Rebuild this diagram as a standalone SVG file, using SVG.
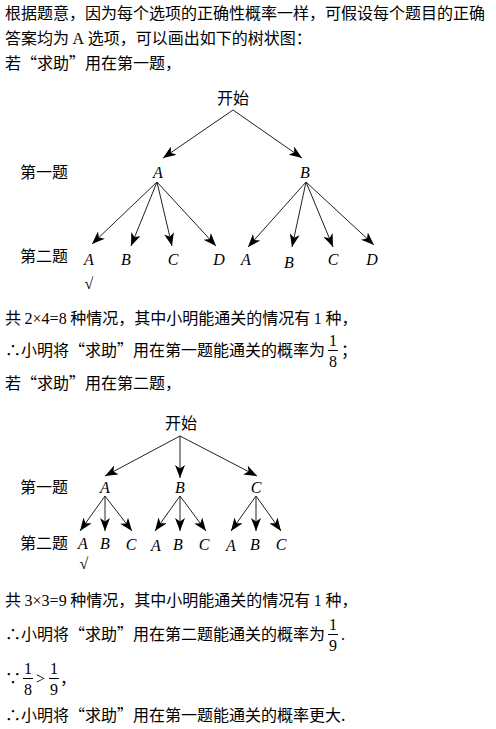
<svg xmlns="http://www.w3.org/2000/svg" width="496" height="729" viewBox="0 0 496 729">
<style>
text{font-family:"Noto Sans CJK SC","Noto Sans",sans-serif;font-size:16px;fill:#000}
.s{font-family:"Liberation Serif",serif}
.l{font-family:"Liberation Serif",serif;font-style:italic;font-size:16px;text-anchor:middle}
.m{text-anchor:middle}
.f{font-family:"Liberation Serif",serif;font-size:16px;text-anchor:middle}
.ck{font-family:"Liberation Serif",serif;font-size:16px;text-anchor:middle}
.c line{stroke:#222;stroke-width:1}
.e{stroke:#000;stroke-width:1}
</style>
<defs>
<marker id="ah" markerUnits="userSpaceOnUse" markerWidth="14" markerHeight="10" refX="13" refY="5" orient="auto">
<path d="M0,0 L13,5 L0,10 L3.5,5 z" fill="#000"/>
</marker>
</defs>
<rect width="496" height="729" fill="#fff"/>
<g id="intro">
<text x="5" y="19">根据题意，因为每个选项的正确性概率一样，可假设每个题目的正确</text>
<text x="5" y="44">答案均为 <tspan class="s">A</tspan> 选项，可以画出如下的树状图：</text>
<text x="5" y="69">若“求助”用在第一题，</text>
</g>
<g id="tree1-connectors" class="c">
<line x1="233" y1="110" x2="163" y2="158" marker-end="url(#ah)"/>
<line x1="233" y1="110" x2="302" y2="158" marker-end="url(#ah)"/>
<line x1="157" y1="182" x2="92" y2="244" marker-end="url(#ah)"/>
<line x1="157" y1="182" x2="131" y2="246" marker-end="url(#ah)"/>
<line x1="157" y1="182" x2="172" y2="246" marker-end="url(#ah)"/>
<line x1="157" y1="182" x2="216" y2="246" marker-end="url(#ah)"/>
<line x1="306" y1="182" x2="248" y2="247" marker-end="url(#ah)"/>
<line x1="306" y1="182" x2="292" y2="247" marker-end="url(#ah)"/>
<line x1="306" y1="182" x2="333" y2="247" marker-end="url(#ah)"/>
<line x1="306" y1="182" x2="374" y2="245" marker-end="url(#ah)"/>
</g>
<g id="tree1-nodes">
<g id="t1-root"><text class="m" x="233" y="104">开始</text></g>
<g id="t1-row1"><text x="20" y="178">第一题</text></g>
<g id="t1-A"><text class="l" x="158" y="178">A</text></g>
<g id="t1-B"><text class="l" x="305" y="178">B</text></g>
<g id="t1-row2"><text x="20" y="262">第二题</text></g>
<g id="t1-AA"><text class="l" x="89" y="265">A</text><text class="ck" x="89" y="289">√</text></g>
<g id="t1-AB"><text class="l" x="126" y="265">B</text></g>
<g id="t1-AC"><text class="l" x="173" y="265">C</text></g>
<g id="t1-AD"><text class="l" x="219" y="265">D</text></g>
<g id="t1-BA"><text class="l" x="246" y="265">A</text></g>
<g id="t1-BB"><text class="l" x="289" y="268">B</text></g>
<g id="t1-BC"><text class="l" x="333" y="265">C</text></g>
<g id="t1-BD"><text class="l" x="372" y="265">D</text></g>
</g>
<g id="middle">
<text x="5" y="324">共 <tspan class="s">2×4=8</tspan> 种情况，其中小明能通关的情况有 <tspan class="s">1</tspan> 种，</text>
<text x="5" y="356">∴小明将“求助”用在第一题能通关的概率为</text>
<text class="f" x="333" y="346">1</text><line class="e" x1="328" y1="350.5" x2="338" y2="350.5"/><text class="f" x="333" y="367">8</text>
<text x="341" y="356">；</text>
<text x="5" y="389">若“求助”用在第二题，</text>
</g>
<g id="tree2-connectors" class="c">
<line x1="180" y1="436" x2="105" y2="476" marker-end="url(#ah)"/>
<line x1="180" y1="436" x2="180" y2="478" marker-end="url(#ah)"/>
<line x1="180" y1="436" x2="257" y2="476" marker-end="url(#ah)"/>
<line x1="105" y1="496" x2="80" y2="531" marker-end="url(#ah)"/>
<line x1="105" y1="496" x2="105" y2="531" marker-end="url(#ah)"/>
<line x1="105" y1="496" x2="132" y2="531" marker-end="url(#ah)"/>
<line x1="180" y1="496" x2="155" y2="531" marker-end="url(#ah)"/>
<line x1="180" y1="496" x2="180" y2="531" marker-end="url(#ah)"/>
<line x1="180" y1="496" x2="206" y2="531" marker-end="url(#ah)"/>
<line x1="256" y1="496" x2="231" y2="531" marker-end="url(#ah)"/>
<line x1="256" y1="496" x2="256" y2="531" marker-end="url(#ah)"/>
<line x1="256" y1="496" x2="281" y2="531" marker-end="url(#ah)"/>
</g>
<g id="tree2-nodes">
<g id="t2-root"><text class="m" x="181" y="429">开始</text></g>
<g id="t2-row1"><text x="20" y="493">第一题</text></g>
<g id="t2-A"><text class="l" x="105" y="493">A</text></g>
<g id="t2-B"><text class="l" x="180" y="493">B</text></g>
<g id="t2-C"><text class="l" x="256" y="493">C</text></g>
<g id="t2-row2"><text x="20" y="549">第二题</text></g>
<g id="t2-AA"><text class="l" x="83" y="549">A</text><text class="ck" x="84" y="569">√</text></g>
<g id="t2-AB"><text class="l" x="105" y="549">B</text></g>
<g id="t2-AC"><text class="l" x="131" y="550">C</text></g>
<g id="t2-BA"><text class="l" x="156" y="551">A</text></g>
<g id="t2-BB"><text class="l" x="178" y="550">B</text></g>
<g id="t2-BC"><text class="l" x="204" y="550">C</text></g>
<g id="t2-CA"><text class="l" x="231" y="551">A</text></g>
<g id="t2-CB"><text class="l" x="255" y="550">B</text></g>
<g id="t2-CC"><text class="l" x="281" y="550">C</text></g>
</g>
<g id="conclusion">
<text x="5" y="606">共 <tspan class="s">3×3=9</tspan> 种情况，其中小明能通关的情况有 <tspan class="s">1</tspan> 种，</text>
<text x="5" y="640">∴小明将“求助”用在第二题能通关的概率为</text>
<text class="f" x="333" y="630">1</text><line class="e" x1="328" y1="634.5" x2="338" y2="634.5"/><text class="f" x="333" y="651">9</text>
<text class="s" x="341" y="640">.</text>
<text x="5" y="684">∵</text>
<text class="f" x="28" y="674">1</text><line class="e" x1="23" y1="678.5" x2="33" y2="678.5"/><text class="f" x="28" y="695">8</text>
<text class="s" x="36" y="684">&gt;</text>
<text class="f" x="54" y="674">1</text><line class="e" x1="49" y1="678.5" x2="59" y2="678.5"/><text class="f" x="54" y="695">9</text>
<text x="60" y="684">，</text>
<text x="5" y="721">∴小明将“求助”用在第一题能通关的概率更大.</text>
</g>
</svg>
